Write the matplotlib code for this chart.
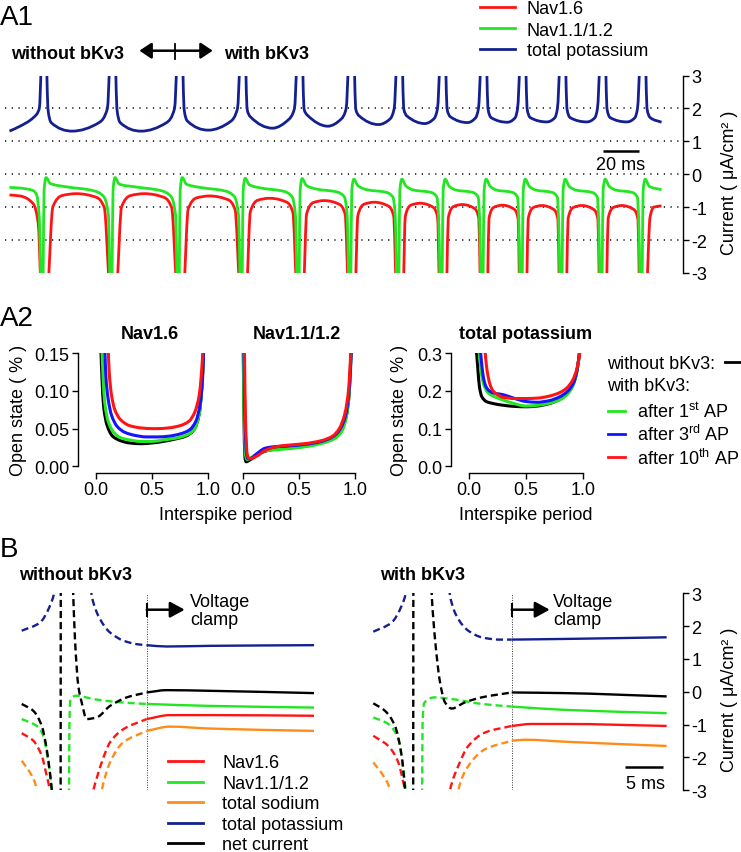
import numpy as np
import matplotlib
matplotlib.use("Agg")
import matplotlib.pyplot as plt
from matplotlib.path import Path
from matplotlib.patches import PathPatch, FancyArrowPatch, ArrowStyle
from matplotlib.lines import Line2D

plt.rcParams['font.family'] = ['Liberation Sans', 'DejaVu Sans']
plt.rcParams['mathtext.fontset'] = 'custom'
plt.rcParams['mathtext.rm'] = 'Liberation Sans'
plt.rcParams['mathtext.it'] = 'Liberation Sans:italic'
plt.rcParams['mathtext.bf'] = 'Liberation Sans:bold'

# ===================== DATA =====================
# ---- A1: spike train (time in ms, current in uA/cm2) ----
spike_t = [18.9, 56.8, 93.7, 128.3, 159.6, 188.0, 214.4, 238.2, 260.7, 282.2, 304.1, 326.1, 348.1]
t_end = 358.3
# total potassium, per interspike interval
k_after = [1.57, 1.57, 1.62, 1.75, 1.80, 1.78, 1.77, 1.75, 1.72, 1.72, 1.72, 1.72]
k_min = [1.31, 1.31, 1.34, 1.40, 1.46, 1.51, 1.54, 1.57, 1.58, 1.59, 1.59, 1.59]
k_min_phase = [0.41, 0.42, 0.45, 0.52, 0.54, 0.56, 0.58, 0.60, 0.60, 0.60, 0.60, 0.60]
k_before = [1.57, 1.57, 1.60, 1.66, 1.68, 1.68, 1.70, 1.72, 1.72, 1.72, 1.72, 1.72]
k_lead_t = [0, 5.8, 13.1, 16.4, 17.5]
k_lead_v = [1.31, 1.46, 1.72, 2.0, 3.4]
k_tail_t = [349.6, 350.3, 352.1, 358.3]
k_tail_v = [3.4, 2.0, 1.72, 1.58]
# Nav1.6, per interspike interval (dome top)
nav16_top = [-0.59, -0.59, -0.66, -0.73, -0.80, -0.85, -0.88, -0.92, -0.94, -0.95, -0.95, -0.95]
nav16_lead_t = [0, 5.8, 13.1, 15.8, 17.2]
nav16_lead_v = [-0.63, -0.66, -0.90, -1.50, -3.4]
nav16_tail_t = [350.3, 352.0, 354.0, 358.3]
nav16_tail_v = [-3.4, -1.3, -1.0, -0.96]
# Nav1.1/1.2, per interspike interval
nav11_peak = [-0.10, -0.10, -0.10, -0.12, -0.13, -0.15, -0.15, -0.15, -0.15, -0.15, -0.15, -0.15]
nav11_early = [-0.28, -0.30, -0.30, -0.32, -0.34, -0.35, -0.36, -0.37, -0.37, -0.37, -0.37, -0.37]
nav11_mid = [-0.38, -0.38, -0.40, -0.42, -0.45, -0.47, -0.48, -0.48, -0.48, -0.48, -0.48, -0.48]
nav11_late = [-0.50, -0.50, -0.51, -0.52, -0.54, -0.55, -0.55, -0.55, -0.55, -0.55, -0.55, -0.55]
nav11_end = [-0.66, -0.66, -0.67, -0.68, -0.69, -0.70, -0.70, -0.70, -0.70, -0.70, -0.70, -0.70]
nav11_lead_t = [0, 5.8, 13.1, 15.0, 16.4, 17.3]
nav11_lead_v = [-0.40, -0.42, -0.50, -0.64, -1.36, -3.4]
nav11_tail_t = [347.65, 348.2, 349.3, 351.6, 358.3]
nav11_tail_v = [-3.4, -0.5, -0.15, -0.37, -0.47]
a1_ticks = [3, 2, 1, 0, -1, -2, -3]
a1_ticklabels = ['3', '2', '1', '0', '-1', '-2', '-3']
a1_gridlines = [2, 1, 0, -1, -2]

# ---- A2: open state vs interspike period ----
p16_black_x = [0.045, 0.055, 0.07, 0.10, 0.15, 0.22, 0.30, 0.40, 0.50, 0.60, 0.70, 0.80, 0.87, 0.92, 0.945, 0.96]
p16_black_y = [0.16, 0.12, 0.08, 0.055, 0.040, 0.034, 0.031, 0.030, 0.031, 0.033, 0.036, 0.040, 0.048, 0.070, 0.110, 0.16]
p16_green_x = [0.055, 0.065, 0.08, 0.11, 0.16, 0.22, 0.30, 0.40, 0.50, 0.60, 0.70, 0.80, 0.87, 0.92, 0.945, 0.96]
p16_green_y = [0.16, 0.12, 0.085, 0.060, 0.045, 0.038, 0.035, 0.033, 0.033, 0.035, 0.037, 0.041, 0.048, 0.070, 0.110, 0.16]
p16_blue_x = [0.08, 0.09, 0.11, 0.14, 0.19, 0.26, 0.35, 0.45, 0.55, 0.65, 0.75, 0.83, 0.89, 0.93, 0.95, 0.96]
p16_blue_y = [0.16, 0.12, 0.09, 0.068, 0.053, 0.045, 0.041, 0.039, 0.039, 0.040, 0.043, 0.048, 0.060, 0.085, 0.120, 0.16]
p16_red_x = [0.11, 0.12, 0.14, 0.17, 0.22, 0.30, 0.40, 0.50, 0.55, 0.65, 0.75, 0.83, 0.88, 0.92, 0.94, 0.955]
p16_red_y = [0.16, 0.125, 0.095, 0.075, 0.062, 0.054, 0.051, 0.050, 0.050, 0.051, 0.054, 0.060, 0.072, 0.095, 0.125, 0.16]

p11_black_x = [0.005, 0.01, 0.02, 0.03, 0.06, 0.10, 0.18, 0.30, 0.45, 0.60, 0.72, 0.82, 0.88, 0.92, 0.95, 0.965]
p11_black_y = [0.16, 0.08, 0.012, 0.006, 0.008, 0.012, 0.019, 0.023, 0.025, 0.028, 0.032, 0.038, 0.048, 0.065, 0.100, 0.16]
p11_green_x = [0.005, 0.012, 0.025, 0.04, 0.07, 0.10, 0.18, 0.30, 0.45, 0.60, 0.72, 0.82, 0.88, 0.92, 0.95, 0.968]
p11_green_y = [0.16, 0.07, 0.015, 0.009, 0.011, 0.014, 0.020, 0.022, 0.024, 0.027, 0.031, 0.037, 0.046, 0.064, 0.100, 0.16]
p11_blue_x = [0.01, 0.02, 0.035, 0.05, 0.08, 0.12, 0.20, 0.28, 0.40, 0.55, 0.70, 0.80, 0.87, 0.92, 0.95, 0.97]
p11_blue_y = [0.16, 0.06, 0.015, 0.010, 0.011, 0.016, 0.024, 0.026, 0.027, 0.029, 0.033, 0.039, 0.050, 0.070, 0.105, 0.16]
p11_red_x = [0.015, 0.025, 0.04, 0.06, 0.09, 0.13, 0.20, 0.30, 0.40, 0.55, 0.70, 0.80, 0.86, 0.91, 0.945, 0.965]
p11_red_y = [0.16, 0.06, 0.016, 0.010, 0.011, 0.014, 0.021, 0.026, 0.028, 0.030, 0.034, 0.040, 0.050, 0.070, 0.105, 0.16]

pk_black_x = [0.06, 0.075, 0.09, 0.11, 0.15, 0.22, 0.30, 0.40, 0.50, 0.60, 0.70, 0.80, 0.87, 0.92, 0.95, 0.975]
pk_black_y = [0.32, 0.26, 0.21, 0.185, 0.172, 0.166, 0.162, 0.159, 0.158, 0.160, 0.166, 0.178, 0.195, 0.222, 0.255, 0.31]
pk_green_x = [0.08, 0.095, 0.11, 0.13, 0.16, 0.20, 0.28, 0.38, 0.50, 0.60, 0.70, 0.80, 0.87, 0.92, 0.95, 0.975]
pk_green_y = [0.32, 0.28, 0.24, 0.215, 0.197, 0.188, 0.178, 0.168, 0.160, 0.162, 0.167, 0.177, 0.193, 0.218, 0.252, 0.31]
pk_blue_x = [0.095, 0.11, 0.125, 0.145, 0.17, 0.21, 0.30, 0.40, 0.50, 0.60, 0.70, 0.80, 0.87, 0.92, 0.95, 0.975]
pk_blue_y = [0.32, 0.27, 0.235, 0.213, 0.202, 0.195, 0.190, 0.180, 0.172, 0.170, 0.174, 0.185, 0.200, 0.222, 0.255, 0.31]
pk_red_x = [0.135, 0.15, 0.165, 0.185, 0.21, 0.25, 0.30, 0.40, 0.50, 0.60, 0.70, 0.80, 0.86, 0.91, 0.95, 0.98]
pk_red_y = [0.32, 0.27, 0.24, 0.215, 0.200, 0.190, 0.183, 0.180, 0.180, 0.181, 0.186, 0.196, 0.208, 0.228, 0.260, 0.31]

a2_xticks = [0.0, 0.5, 1.0]
a2_xticklabels = ['0.0', '0.5', '1.0']
nav_yticks = [0.0, 0.05, 0.10, 0.15]
nav_yticklabels = ['0.00', '0.05', '0.10', '0.15']
k_yticks = [0.0, 0.1, 0.2, 0.3]
k_yticklabels = ['0.0', '0.1', '0.2', '0.3']
a2_legend = ['after 1$^{\\mathrm{st}}$ AP', 'after 3$^{\\mathrm{rd}}$ AP', 'after 10$^{\\mathrm{th}}$ AP']

# ---- B: voltage clamp traces (time in ms) ----
# without bKv3 (left)
L_clamp = 16.45
L_k_pre = [([0, 2.41, 3.72, 4.25, 4.45], [1.86, 2.11, 2.62, 3.0, 3.4]),
           ([8.95, 9.21, 10.3, 11.6, 13.37, 15.13, 16.45], [3.5, 2.93, 2.22, 1.81, 1.56, 1.45, 1.42])]
L_k_vc = ([16.45, 19.08, 24.8, 38.46], [1.42, 1.38, 1.40, 1.42])
L_net_pre = [([0, 1.53, 2.64, 3.29, 3.95, 4.1], [-0.37, -0.58, -1.04, -1.75, -2.97, -3.4]),
             ([5.12, 5.14], [-3.5, 3.5]),
             ([6.7, 7.01, 7.45, 7.89, 8.55, 9.87, 11.62, 13.82, 16.45], [3.5, 1.6, 0.18, -0.32, -0.83, -0.78, -0.43, -0.17, -0.02])]
L_net_vc = ([16.45, 19.08, 24.8, 38.46], [-0.02, 0.05, 0.03, -0.04])
L_n11_pre = [([0, 1.97, 2.84, 3.5, 3.95, 4.1], [-0.83, -1.04, -1.34, -2.15, -2.97, -3.4]),
             ([6.22, 6.28, 6.4, 7.24, 9.42, 12.93, 16.45], [-3.5, -1.0, -0.24, -0.12, -0.22, -0.32, -0.37])]
L_n11_vc = ([16.45, 24.8, 38.46], [-0.37, -0.43, -0.48])
L_n16_pre = [([0, 1.53, 2.64, 3.29, 3.7, 3.85], [-1.26, -1.49, -1.95, -2.56, -3.0, -3.3]),
             ([9.1, 9.42, 10.53, 11.62, 13.37, 16.45], [-3.3, -3.0, -2.15, -1.54, -1.14, -0.83])]
L_n16_vc = ([16.45, 19.5, 24.8, 38.46], [-0.83, -0.71, -0.71, -0.73])
L_na_pre = [([0, 1.09, 1.97, 2.1], [-2.1, -2.46, -2.97, -3.3]),
            ([10.3, 10.53, 11.62, 13.37, 16.45], [-3.3, -3.0, -2.15, -1.54, -1.19])]
L_na_vc = ([16.45, 19.5, 24.8, 38.46], [-1.19, -1.06, -1.12, -1.19])
# with bKv3 (right)
R_clamp = 18.21
R_k_pre = [([0, 2.41, 3.73, 4.26, 4.45], [1.83, 2.11, 2.62, 3.0, 3.4]),
           ([9.85, 10.09, 11.18, 12.5, 14.26, 16.45, 18.21], [3.5, 2.93, 2.22, 1.86, 1.66, 1.59, 1.59])]
R_k_vc = ([18.21, 25.2, 38.6], [1.59, 1.61, 1.66])
R_net_pre = [([0, 1.54, 2.85, 3.73, 4.17, 4.3], [-0.35, -0.58, -1.04, -1.95, -2.97, -3.4]),
             ([5.25, 5.27], [-3.5, 3.5]),
             ([7.6, 7.68, 8.12, 8.78, 9.43, 10.32, 12.07, 14.26, 18.21], [3.5, 3.0, 1.61, 0.29, -0.32, -0.51, -0.32, -0.17, -0.02])]
R_net_vc = ([18.21, 25.2, 38.6], [-0.02, -0.04, -0.14])
R_n11_pre = [([0, 1.97, 3.29, 3.95, 4.26, 4.4], [-0.78, -0.98, -1.44, -2.36, -3.0, -3.4]),
             ([6.42, 6.48, 6.7, 8.12, 10.32, 14.26, 18.21], [-3.5, -1.0, -0.34, -0.17, -0.22, -0.37, -0.45])]
R_n11_vc = ([18.21, 25.2, 38.6], [-0.45, -0.55, -0.65])
R_n16_pre = [([0, 1.97, 3.29, 3.95, 4.17, 4.3], [-1.34, -1.65, -2.15, -2.76, -3.0, -3.3]),
             ([9.9, 10.09, 11.18, 12.5, 14.7, 18.21], [-3.3, -3.0, -2.26, -1.65, -1.24, -1.04])]
R_n16_vc = ([18.21, 20.8, 25.2, 38.6], [-1.04, -0.98, -0.98, -1.04])
R_na_pre = [([0, 1.32, 2.2, 2.35], [-2.15, -2.56, -3.0, -3.3]),
            ([11.0, 11.18, 12.5, 14.7, 18.21], [-3.3, -3.0, -2.26, -1.75, -1.49])]
R_na_vc = ([18.21, 20.0, 25.2, 38.6], [-1.49, -1.46, -1.52, -1.65])
b_legend = ['Nav1.6', 'Nav1.1/1.2', 'total sodium', 'total potassium', 'net current']

# ===================== STYLE =====================
RED = '#ff1414'
GREEN = '#22e622'
NAVY = '#14208f'
BLUE = '#1414ff'
ORANGE = '#ff8c1a'
BLACK = '#000000'

W, H = 741, 853
fig = plt.figure(figsize=(W / 100, H / 100), dpi=100)


def box(l, t, r, b):
    return [l / W, 1 - b / H, (r - l) / W, (b - t) / H]


def ftext(x, y, s, **kw):
    fig.text(x / W, 1 - y / H, s, **kw)


def fline(x0, x1, y0, y1, **kw):
    fig.add_artist(Line2D([x0 / W, x1 / W], [1 - y0 / H, 1 - y1 / H], **kw))


def farrow(x0, x1, y, style, ms, lw=1.8):
    fig.add_artist(FancyArrowPatch((x0 / W, 1 - y / H), (x1 / W, 1 - y / H),
                                   transform=fig.transFigure, arrowstyle=style,
                                   mutation_scale=ms, color='k', lw=lw,
                                   shrinkA=0, shrinkB=0))


def pchip_path(x, y):
    x = np.asarray(x, float)
    y = np.asarray(y, float)
    h = np.diff(x)
    d = np.diff(y) / h
    n = len(x)
    m = np.zeros(n)
    m[0] = d[0]
    m[-1] = d[-1]
    for k in range(1, n - 1):
        if d[k - 1] * d[k] <= 0:
            m[k] = 0.0
        else:
            w1 = 2 * h[k] + h[k - 1]
            w2 = h[k] + 2 * h[k - 1]
            m[k] = (w1 + w2) / (w1 / d[k - 1] + w2 / d[k])
    verts = [(x[0], y[0])]
    codes = [Path.MOVETO]
    for k in range(n - 1):
        verts += [(x[k] + h[k] / 3, y[k] + m[k] * h[k] / 3),
                  (x[k + 1] - h[k] / 3, y[k + 1] - m[k + 1] * h[k] / 3),
                  (x[k + 1], y[k + 1])]
        codes += [Path.CURVE4] * 3
    return verts, codes


def smooth(ax, segments, **kw):
    verts, codes = [], []
    for xs, ys in segments:
        v, c = pchip_path(xs, ys)
        verts += v
        codes += c
    ax.add_patch(PathPatch(Path(verts, codes), fill=False, joinstyle='round',
                           capstyle='butt', **kw))


# ===================== A1 =====================
ax1 = fig.add_axes(box(5, 76.5, 683, 274))
for v in a1_gridlines:
    ax1.axhline(v, color='k', lw=1.1, ls=(0, (0.8, 3.6)), zorder=0)

k_segs = [(k_lead_t, k_lead_v)]
g_segs = [(nav11_lead_t, nav11_lead_v)]
r_segs = [(nav16_lead_t, nav16_lead_v)]
for i in range(len(spike_t) - 1):
    s0, s1 = spike_t[i], spike_t[i + 1]
    L = s1 - s0
    k_segs.append(([s0 + 1.5, s0 + 2.2, s0 + 4.0, s0 + k_min_phase[i] * L, s1 - 0.2 * L, s1 - 3.0, s1 - 1.7],
                   [3.4, 2.0, k_after[i], k_min[i], k_before[i], 2.0, 3.4]))
    top = nav16_top[i]
    r_segs.append(([s0 + 1.6 + 0.02 * L, s0 + 0.13 * L, s0 + 0.26 * L, s0 + 0.47 * L, s0 + 0.77 * L,
                    s0 + 0.875 * L, s1 - 2.0],
                   [-3.4, top - 0.4, top - 0.06, top, top - 0.12, top - 0.42, -3.4]))
    g_segs.append(([s0 - 0.45, s0 + 0.1, s0 + 1.2, s0 + 3.5, s0 + 0.32 * L, s0 + 0.72 * L, s0 + 0.86 * L, s1 - 2.4, s1 - 1.6],
                   [-3.4, -0.5, nav11_peak[i], nav11_early[i], nav11_mid[i], nav11_late[i], nav11_end[i],
                    nav11_end[i] - 0.6, -3.4]))
k_segs.append((k_tail_t, k_tail_v))
g_segs.append((nav11_tail_t, nav11_tail_v))
r_segs.append((nav16_tail_t, nav16_tail_v))

smooth(ax1, k_segs, edgecolor=NAVY, lw=2.0)
smooth(ax1, r_segs, edgecolor=RED, lw=2.0)
smooth(ax1, g_segs, edgecolor=GREEN, lw=2.0)

ax1.set_xlim(-2.47, 370.1)
ax1.set_ylim(-3, 3)
for s in ['left', 'top', 'bottom']:
    ax1.spines[s].set_visible(False)
ax1.spines['right'].set_linewidth(1.0)
ax1.yaxis.tick_right()
ax1.set_yticks(a1_ticks)
ax1.set_yticklabels(a1_ticklabels)
ax1.set_xticks([])
ax1.tick_params(axis='y', direction='out', length=4, width=1.0, labelsize=13, pad=2)
ax1.patch.set_alpha(0)
# scale bar 20 ms
ax1.plot([325.9, 345.9], [0.71, 0.71], color='k', lw=1.8, solid_capstyle='butt')
ax1.text(335.9, 0.30, '20 ms', ha='center', va='center', fontsize=13)

ftext(730, 183, 'Current ( μA/cm² )', rotation=90, ha='center', va='center', fontsize=13)
ftext(0, 25, 'A1', fontsize=20, va='baseline', ha='left')
ftext(11, 59, 'without bKv3', fontsize=13, fontweight='bold', va='baseline')
ftext(224, 59, 'with bKv3', fontsize=13, fontweight='bold', va='baseline')
farrow(139.4, 212.7, 51.7, ArrowStyle('<|-|>', head_length=0.45, head_width=0.3), 16, lw=1.8)
fline(174.9, 174.9, 45, 60, color='k', lw=1.3)
# legend A1
for yl, yb, col, lab in [(7.5, 14.5, RED, 'Nav1.6'), (28.5, 35.5, GREEN, 'Nav1.1/1.2'),
                         (50, 56.5, NAVY, 'total potassium')]:
    fline(480, 515, yl, yl, color=col, lw=2.0)
    ftext(527, yb, lab, fontsize=13, va='baseline')

# ===================== A2 =====================
ftext(0, 326, 'A2', fontsize=20, va='baseline')


def a2_axes(left, x0, x1, ymax, yticks, ylabels, show_y):
    right = x1 + 4
    sc = (x1 - x0)
    ax = fig.add_axes(box(left, 354.3, right, 467.3))
    ax.set_xlim((left - x0) / sc, 1 + (right - x1) / sc)
    ax.set_ylim(0, ymax)
    ax.patch.set_alpha(0)
    for s in ['top', 'right']:
        ax.spines[s].set_visible(False)
    ax.spines['bottom'].set_position(('outward', 4.8))
    ax.spines['bottom'].set_bounds(0, 1)
    ax.spines['bottom'].set_linewidth(1.0)
    ax.set_xticks(a2_xticks)
    ax.set_xticklabels(a2_xticklabels)
    if show_y:
        ax.spines['left'].set_bounds(0, ymax)
        ax.spines['left'].set_linewidth(1.0)
        ax.set_yticks(yticks)
        ax.set_yticklabels(ylabels)
    else:
        ax.spines['left'].set_visible(False)
        ax.set_yticks([])
    ax.tick_params(direction='out', length=4.5, width=1.0, labelsize=13, pad=1.5)
    return ax


ax_p16 = a2_axes(77.7, 95.7, 208.3, 0.15, nav_yticks, nav_yticklabels, True)
ax_p11 = a2_axes(238, 242.7, 355, 0.15, None, None, False)
ax_pk = a2_axes(451, 469.3, 582.7, 0.3, k_yticks, k_yticklabels, True)

for ax, sets in [(ax_p16, [(p16_black_x, p16_black_y, BLACK), (p16_green_x, p16_green_y, GREEN),
                           (p16_blue_x, p16_blue_y, BLUE), (p16_red_x, p16_red_y, RED)]),
                 (ax_p11, [(p11_black_x, p11_black_y, BLACK), (p11_green_x, p11_green_y, GREEN),
                           (p11_blue_x, p11_blue_y, BLUE), (p11_red_x, p11_red_y, RED)]),
                 (ax_pk, [(pk_black_x, pk_black_y, BLACK), (pk_green_x, pk_green_y, GREEN),
                          (pk_blue_x, pk_blue_y, BLUE), (pk_red_x, pk_red_y, RED)])]:
    for xs, ys, col in sets:
        smooth(ax, [(xs, ys)], edgecolor=col, lw=2.2)

ftext(149.5, 339, 'Nav1.6', fontsize=13, fontweight='bold', ha='center', va='baseline')
ftext(296.6, 339, 'Nav1.1/1.2', fontsize=13, fontweight='bold', ha='center', va='baseline')
ftext(526, 339, 'total potassium', fontsize=13, fontweight='bold', ha='center', va='baseline')
ftext(18.5, 410.8, 'Open state ( % )', rotation=90, ha='center', va='center', fontsize=13)
ftext(400, 410.8, 'Open state ( % )', rotation=90, ha='center', va='center', fontsize=13)
ftext(225.3, 520.5, 'Interspike period', fontsize=13, ha='center', va='baseline')
ftext(526, 520.5, 'Interspike period', fontsize=13, ha='center', va='baseline')
# legend A2
ftext(606.7, 369.5, 'without bKv3:', fontsize=13, va='baseline')
fline(725, 741, 363.3, 363.3, color=BLACK, lw=2.0)
ftext(606.7, 391.5, 'with bKv3:', fontsize=13, va='baseline')
for yl, col, lab in [(411.7, GREEN, a2_legend[0]), (435, BLUE, a2_legend[1]), (458.3, RED, a2_legend[2])]:
    fline(608, 625, yl, yl, color=col, lw=2.0)
    ftext(636.7, yl + 6.5, lab, fontsize=13, va='baseline')

# ===================== B =====================
ftext(0, 557, 'B', fontsize=20, va='baseline')
ftext(19, 580, 'without bKv3', fontsize=13, fontweight='bold', va='baseline')
ftext(380, 580, 'with bKv3', fontsize=13, fontweight='bold', va='baseline')

axBL = fig.add_axes(box(19, 594.3, 320, 791.3))
axBR = fig.add_axes(box(370, 594.3, 683, 791.3))
axBL.set_xlim((19 - 21.7) / 7.6, (320 - 21.7) / 7.6)
axBR.set_xlim((370 - 373.3) / 7.6, (683 - 373.3) / 7.6)
DASH = (0, (3.0, 1.7))
for ax, clamp, groups in [
        (axBL, L_clamp, [(L_na_pre, L_na_vc, ORANGE), (L_n16_pre, L_n16_vc, RED), (L_n11_pre, L_n11_vc, GREEN),
                         (L_k_pre, L_k_vc, NAVY), (L_net_pre, L_net_vc, BLACK)]),
        (axBR, R_clamp, [(R_na_pre, R_na_vc, ORANGE), (R_n16_pre, R_n16_vc, RED), (R_n11_pre, R_n11_vc, GREEN),
                         (R_k_pre, R_k_vc, NAVY), (R_net_pre, R_net_vc, BLACK)])]:
    ax.set_ylim(-3, 3)
    ax.patch.set_alpha(0)
    ax.axvline(clamp, color='#333333', lw=0.7, ls=(0, (1, 1.5)), zorder=0)
    for pre, vc, col in groups:
        smooth(ax, pre, edgecolor=col, lw=1.7, linestyle=DASH)
        smooth(ax, [vc], edgecolor=col, lw=1.7)
    ax.set_xticks([])
    for s in ['left', 'top', 'bottom', 'right']:
        ax.spines[s].set_visible(False)
axBL.set_yticks([])
axBR.spines['right'].set_visible(True)
axBR.spines['right'].set_linewidth(1.0)
axBR.yaxis.tick_right()
axBR.set_yticks(a1_ticks)
axBR.set_yticklabels(a1_ticklabels)
axBR.tick_params(axis='y', direction='out', length=4, width=1.0, labelsize=13, pad=2)
# scale bar 5 ms
axBR.plot([33.1, 38.1], [-2.3, -2.3], color='k', lw=1.8, solid_capstyle='butt')
ftext(645, 789, '5 ms', fontsize=13, ha='center', va='baseline')
ftext(730, 700, 'Current ( μA/cm² )', rotation=90, ha='center', va='center', fontsize=13)

# voltage clamp arrows
for xc, xt in [(146.7, 190), (511.7, 553.3)]:
    fline(xc, xc, 605, 617, color='k', lw=1.5)
    farrow(xc, xc + 38, 610.7, ArrowStyle('-|>', head_length=0.55, head_width=0.3), 16, lw=1.8)
    ftext(xt, 607, 'Voltage', fontsize=13, va='baseline')
    ftext(xt, 625, 'clamp', fontsize=13, va='baseline')

# legend B
for j, (col, lab) in enumerate(zip([RED, GREEN, ORANGE, NAVY, BLACK], b_legend)):
    yl = 762.0 + j * 20.5
    fline(168, 203, yl, yl, color=col, lw=2.0)
    ftext(222, yl + 6.3, lab, fontsize=13, va='baseline')

fig.savefig('out.png', dpi=100)
